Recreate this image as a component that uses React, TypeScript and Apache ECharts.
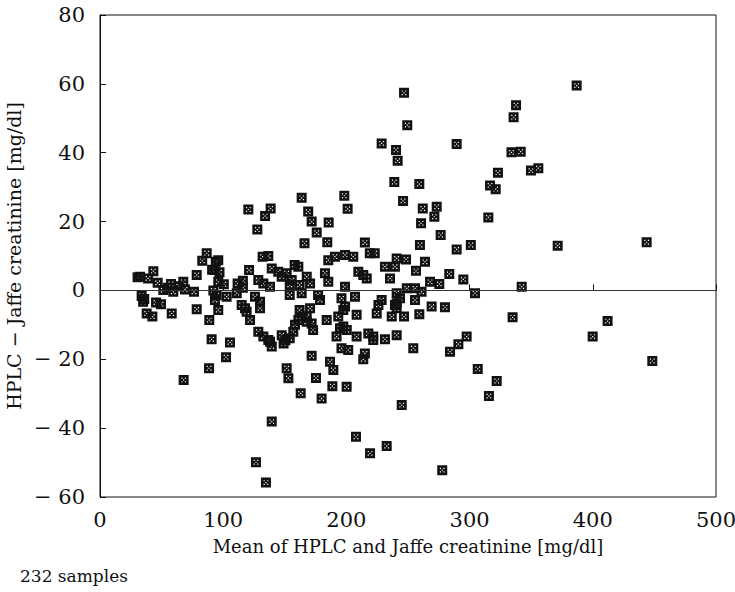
import React, { useEffect, useRef } from "react";
import * as echarts from "echarts";

const xMeans: number[] = [
  32.5, 33.8, 35, 35.9, 37.9, 39, 42.5, 43.3, 46.8, 49.5, 51.4, 55, 57.6, 58.2, 59.5, 67.6, 67.9, 69, 76.3, 78.5,
  78.5, 83, 86.6, 88.7, 88.5, 90.6, 91, 92, 93, 94, 94.7, 93.3, 96, 96, 96, 102.3, 102.8, 105.5, 111, 111.7,
  115, 116, 116, 117.7, 119, 120.4, 121, 121.8, 125.8, 126.6, 127.7, 128.5, 128.5, 129.9, 129.9, 132, 132.6, 132.6, 134, 134.7,
  136.6, 136.6, 138, 138.5, 138, 139.4, 139.4, 139.4, 144.7, 147.5, 147.5, 149, 150.5, 151.5, 151.5, 152.9, 154, 154, 154, 155.6,
  156.9, 158, 158.3, 161, 161, 162, 162, 162.9, 163.7, 163.7, 163.7, 166, 167.8, 167.8, 167.8, 169, 170.5, 170.5, 171.8, 171.8,
  171.8, 173, 175.3, 175.9, 177, 178.6, 179.9, 182.6, 184, 184.5, 185.3, 185.3, 185.6, 186.7, 188.6, 189.4, 190.7, 192, 193.4, 194.8,
  196, 196, 197.5, 197.5, 198.3, 198.9, 198.9, 198.9, 200.2, 200.3, 201, 201.5, 205.6, 207, 207.8, 208.3, 208.3, 209.7, 213.7, 213.7,
  215, 215, 216.5, 217.8, 219, 219.2, 221.8, 221.8, 223, 224.6, 226, 228.6, 228.6, 231.3, 231.3, 232.7, 235.4, 236.8, 238.9, 239.4,
  239.4, 240.3, 240.8, 240.8, 240.8, 240.8, 240.8, 241.6, 243.5, 244.9, 246, 246.8, 246.8, 248.4, 249, 249.4, 254.3, 255.7, 255.7, 256.5,
  259.2, 259.2, 259.7, 260.6, 261, 262, 263.8, 267.9, 269.2, 271.4, 273.3, 275.4, 276.5, 277.8, 280, 283.5, 284.1, 289.5, 289.5, 290.9,
  294.9, 297.6, 301, 304.4, 306.6, 315.2, 315.7, 316.6, 321.2, 322, 323, 334, 334.9, 335.7, 337.7, 341.5, 342.3, 349.8, 355.8, 371.5,
  386.9, 399.9, 412, 443.7, 448.3, 97, 30.5, 45.5, 64, 100.5
];

const yDiffs: number[] = [
  4, -1.6, -3.3, -2.5, -6.7, 3.5, -7.6, 5.6, 2.2, -4, 0.1, 0.8, 1.9, -6.7, -0.4, 2.5, -26, 0.3, -0.4, 4.5,
  -5.5, 8.6, 10.8, -8.6, -22.6, -14.2, 6, 0, 5.9, 8.3, -1.4, -2.8, 8.8, 2.5, -5.7, -19.4, -1.8, -15.1, -0.8, 2,
  -4.2, 2.8, 0.8, -5.2, -6.2, 23.5, 5.9, -8.6, -1.8, -49.9, 17.7, 3, -12, -3.3, -5.2, 9.8, 2, -13.4, 21.6, -55.8,
  10, -14.4, 1.1, 23.8, -14.9, 6.4, -16.3, -38.1, 5.4, 4, -13, -15.4, -14.5, 5, -22.6, -25.5, 1.6, -1.3, -13.9, 3,
  -12, 7.4, -10, 6.9, -8.6, 1.6, -5.7, -29.9, 26.9, -0.8, -7.6, 13.7, 4, -7.6, -9.1, 22.9, 2, -5.2, 20, -9.6,
  -19, -11.5, -25.4, 16.8, -1.3, -2.8, -31.4, 5, -8.6, 14, 8.8, 2.5, 19.7, -20.7, -27.8, -23.1, 9.8, -13.4, -7.6, -11,
  -2.3, -16.8, -5.7, -10.5, 27.5, 10.3, 1.1, -4.7, -28, -11.5, 23.7, -17.3, 9.8, -1.8, -42.5, -7.1, -13.4, 5.4, 4.5, -20,
  13.9, -18.3, 3.5, -12.5, 10.8, -47.3, -13.4, -14.4, 10.8, -6.7, -4.2, -2.8, 42.7, 6.9, -14.2, -45.2, 3.5, -7.6, 31.5, 6.9,
  -4.2, 40.8, 9.3, -0.8, -5.2, -13, -3.7, 37.7, -2.3, -33.3, 26, 57.4, -7.6, 9, 0.6, 48, -16.8, 0.6, -2.8, 5.7,
  30.9, -6.9, 13.2, 19.5, -0.4, 23.8, 8.3, 2.5, -4.7, 21.4, 24.3, 1.9, 16.1, -52.2, -4.9, 4.8, -17.8, 42.5, 11.9, -15.6,
  3.2, -13.4, 13.2, -0.8, -22.8, 21.2, -30.7, 30.5, 29.4, -26.3, 34.2, 40.1, -7.8, 50.3, 53.8, 40.3, 1.1, 34.8, 35.5, 13,
  59.5, -13.4, -8.9, 14, -20.5, 5.3, 3.8, -3.5, 1.2, 1.8
];

const yTicks: number[] = [-60, -40, -20, 0, 20, 40, 60, 80];
const xTicks: number[] = [0, 100, 200, 300, 400, 500];

const xTitle = "Mean of HPLC and Jaffe creatinine [mg/dl]";
const yTitle = "HPLC \u2212 Jaffe creatinine [mg/dl]";
const footnote = "232 samples";

const markerPath =
  "path://M0,0H10V10H0Z M2.6,2.6V3.8H3.8V2.6Z M6.2,2.6V3.8H7.4V2.6Z M2.6,6.2V7.4H3.8V6.2Z M6.2,6.2V7.4H7.4V6.2Z M4.4,4.4V5.6H5.6V4.4Z";

const FONT = "DejaVu Serif";

export default function App() {
  const ref = useRef<HTMLDivElement | null>(null);

  useEffect(() => {
    if (!ref.current) return;
    const chart = echarts.init(ref.current, undefined, { renderer: "svg" });
    const points = xMeans.map((x, i) => [x, yDiffs[i]]);
    chart.setOption({
      animation: false,
      backgroundColor: "#ffffff",
      textStyle: { fontFamily: FONT },
      grid: {
        left: 100,
        top: 15,
        width: 616,
        height: 482,
        outerBoundsMode: "none",
        containLabel: false,
        show: true,
        borderColor: "#111",
        borderWidth: 1,
        backgroundColor: "transparent",
      },
      xAxis: {
        type: "value",
        min: xTicks[0],
        max: xTicks[xTicks.length - 1],
        interval: 100,
        name: xTitle,
        nameLocation: "middle",
        nameGap: 40,
        nameTextStyle: { fontFamily: FONT, fontSize: 18, color: "#111" },
        axisLine: { show: true, lineStyle: { color: "#111", width: 1 } },
        axisTick: { show: true, inside: true, length: 6, lineStyle: { color: "#111" } },
        axisLabel: { fontFamily: FONT, fontSize: 21, color: "#111", margin: 12 },
        splitLine: { show: false },
      },
      yAxis: {
        type: "value",
        min: yTicks[0],
        max: yTicks[yTicks.length - 1],
        interval: 20,
        name: yTitle,
        nameLocation: "middle",
        nameGap: 72,
        nameRotate: 90,
        nameTextStyle: { fontFamily: FONT, fontSize: 19, color: "#111" },
        axisLine: { show: true, lineStyle: { color: "#111", width: 1 } },
        axisTick: { show: true, inside: true, length: 6, lineStyle: { color: "#111" } },
        axisLabel: {
          fontFamily: FONT,
          fontSize: 21,
          color: "#111",
          margin: 15,
          formatter: (v: number) => (v < 0 ? "\u2212 " + Math.abs(v) : String(v)),
        },
        splitLine: { show: false },
      },
      graphic: [
        {
          type: "text",
          left: 20,
          top: 567,
          style: { text: footnote, fontFamily: FONT, fontSize: 17, fill: "#111" },
        },
      ],
      series: [
        {
          type: "scatter",
          data: points,
          symbol: markerPath,
          symbolSize: 10,
          itemStyle: { color: "#111", opacity: 1 },
          markLine: {
            silent: true,
            symbol: "none",
            label: { show: false },
            lineStyle: { color: "#333", width: 1, type: "solid" },
            data: [{ yAxis: 0 }],
          },
          z: 3,
        },
      ],
    });
    return () => chart.dispose();
  }, []);

  return (
    <div
      ref={ref}
      style={{ position: "absolute", left: 0, top: 0, width: 735, height: 592 }}
    />
  );
}
